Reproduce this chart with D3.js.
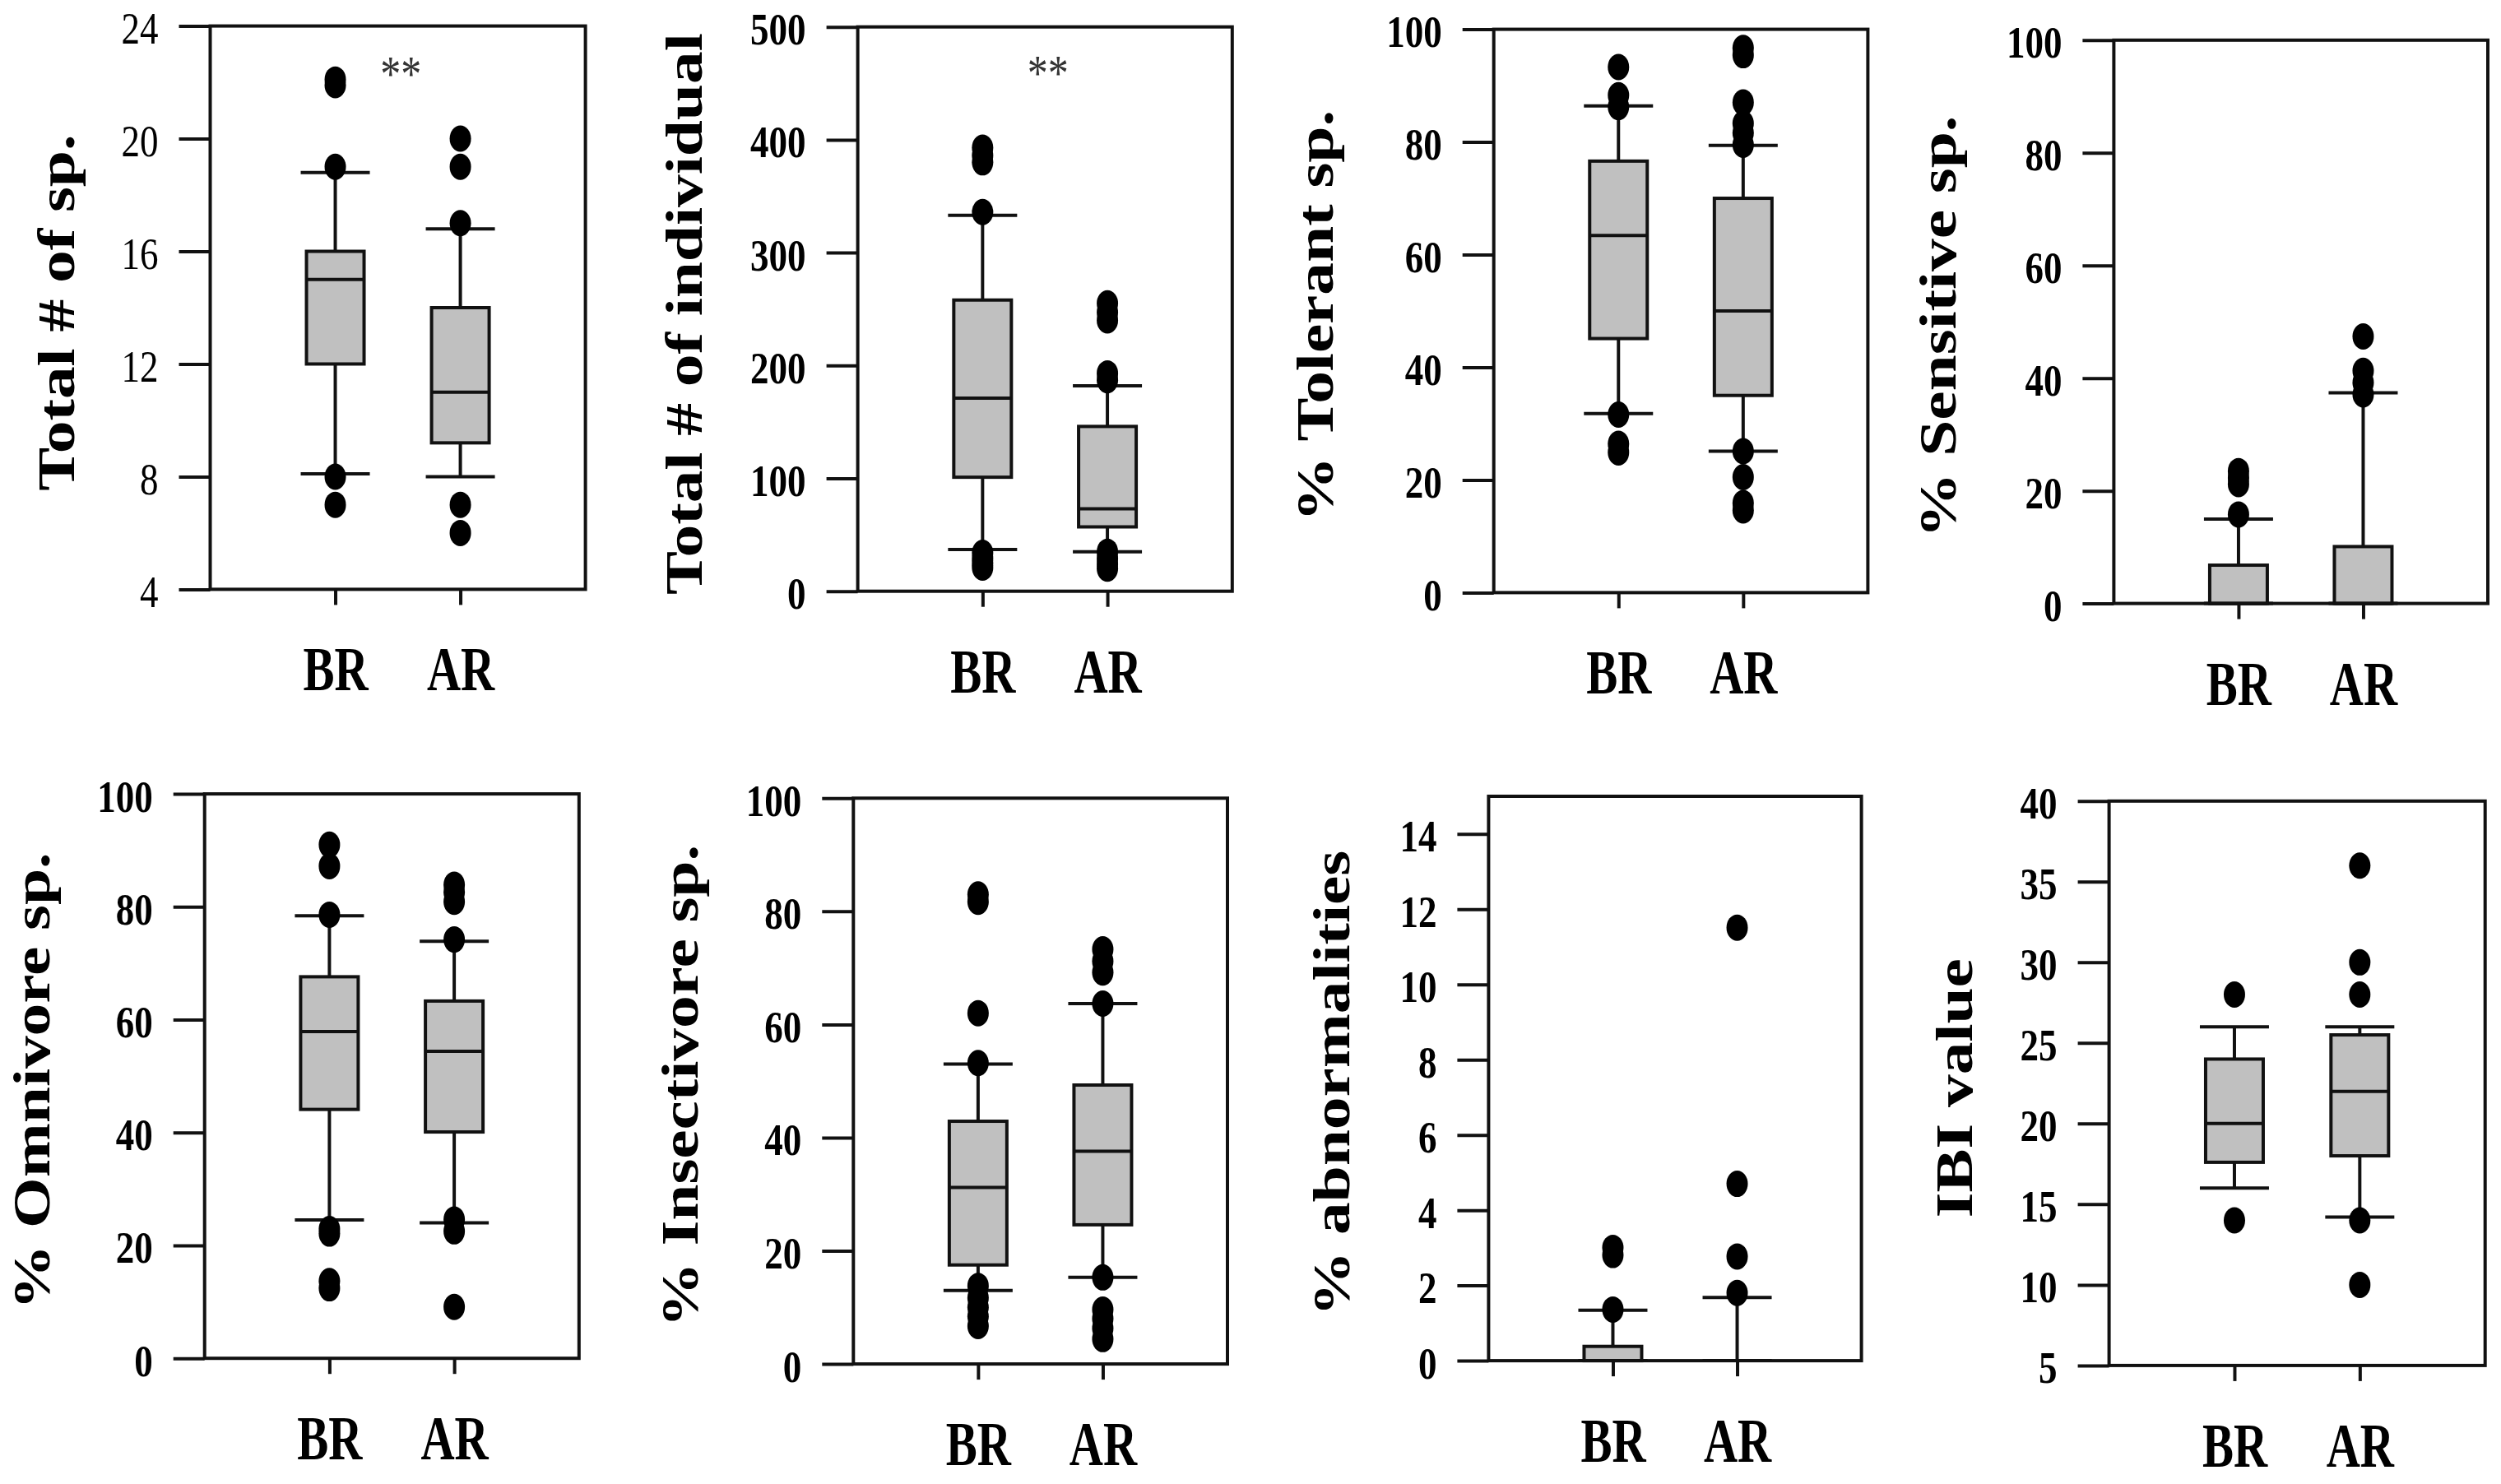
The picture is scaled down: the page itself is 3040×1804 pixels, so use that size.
<!DOCTYPE html>
<html><head><meta charset="utf-8">
<script src="https://cdn.jsdelivr.net/npm/d3@7"></script>
<style>html,body{margin:0;padding:0;background:#fff;} svg{display:block;}</style>
</head><body>
<svg id="chart" width="3040" height="1804"></svg>
<script>
// ---------------- DATA ----------------
const categories = ["BR", "AR"];
const yTitles = ["Total # of sp.", "Total # of individual", "% Tolerant sp.", "% Sensitive sp.",
                 "% Omnivore sp.", "% Insectivore sp.", "% abnormalities", "IBI value"];
const yDomains = [[4,24],[0,500],[0,100],[0,100],[0,100],[0,100],[0,15],[5,40]];
const yTicks = [
  [4,8,12,16,20,24],
  [0,100,200,300,400,500],
  [0,20,40,60,80,100],
  [0,20,40,60,80,100],
  [0,20,40,60,80,100],
  [0,20,40,60,80,100],
  [0,2,4,6,8,10,12,14],
  [5,10,15,20,25,30,35,40]
];
// each entry: [BR, AR]
const q1          = [[12,9.2],[101,57],[45.1,35],[0,0],[44.1,40.1],[17.5,24.6],[0,0],[17.6,18]];
const medians     = [[15,11],[171,73],[63.4,50],[0,0],[57.9,54.4],[31.2,37.6],[0,0],[20,22]];
const q3          = [[16,14],[258,146],[76.6,70],[6.8,10.1],[67.6,63.3],[42.9,49.3],[0.38,0],[24,25.5]];
const whiskerLow  = [[8.1,8],[37,35],[31.8,25.1],[0,0],[24.5,24],[13,15.3],[0,0],[16,14.2]];
const whiskerHigh = [[18.8,16.8],[333,182],[86.4,79.4],[15,37.4],[78.4,73.9],[53,63.7],[1.34,1.68],[26,26]];
const outliers = [
  [[22.1,21.9,19,8,7],[20,19,17,7,6]],
  [[393,386,380,336,34,29,25,21],[255,247,240,193,187,35,29,24,20]],
  [[93.3,88.3,86.2,31.6,26.4,24.9],[96.7,95.4,87,83.3,81.6,79.5,25.1,20.5,15.9,14.6]],
  [[23.5,22.3,21.2,15.8],[47.4,41.3,39.2,37.1]],
  [[91,87.2,78.6,22.9,22.1,13.7,12.4],[83.9,82.6,80.9,74.2,24.6,22.5,9.1]],
  [[83,81.7,62,53.2,13.8,11.7,10,8.4,6.7],[73.3,71.2,69.2,63.7,15.3,9.6,8,6.3,4.4]],
  [[3.0,2.81,1.36],[11.51,4.7,2.77,1.8]],
  [[28,14],[36,30,28,14,10]]
];
const sigLabels = ["**","**","","","","","",""];
const sigValues = [22.6,466,null,null,null,null,null,null];

// ---------------- LAYOUT (positions / styles) ----------------
const layout = [
  {x0:255.5, x1:711.6, y0:31.6, y1:716.4, title:166, boldTicks:false},
  {x0:1042.6,x1:1497.8,y0:32.7, y1:718.7, title:190, boldTicks:true},
  {x0:1815.7,x1:2270.4,y0:35.6, y1:720.4, title:196, boldTicks:true},
  {x0:2569.4,x1:3024,  y0:48.8, y1:733.6, title:192, boldTicks:true},
  {x0:248.7, x1:703.8, y0:965.1,y1:1651.2,title:189, boldTicks:true},
  {x0:1037.3,x1:1492,  y0:970.3,y1:1658.1,title:189, boldTicks:true},
  {x0:1809.4,x1:2262.6,y0:968,  y1:1654.1,title:169, boldTicks:true},
  {x0:2563.6,x1:3020.7,y0:973.8,y1:1659.9,title:167, boldTicks:true}
];
const FONT = "'Liberation Serif','Times New Roman',Times,serif";
const INK = "#111";
const BOX_FILL = "#c0c0c0";
const SW = 4;
const BOX_HALF = 35, CAP_HALF = 42;

const svg = d3.select("#chart");

layout.forEach((L, i) => {
  const w = L.x1 - L.x0, h = L.y1 - L.y0;
  const g = svg.append("g").attr("transform", `translate(${L.x0},${L.y0})`);
  const y = d3.scaleLinear().domain(yDomains[i]).range([h, 0]);
  const x = d3.scalePoint().domain(categories).range([0, w]).padding(1);

  // Y axis
  const ya = g.append("g")
    .call(d3.axisLeft(y).tickValues(yTicks[i]).tickSize(38).tickSizeOuter(0).tickPadding(25).tickFormat(d3.format("d")));
  ya.select(".domain").remove();
  ya.selectAll(".tick line").attr("stroke", INK).attr("stroke-width", SW);
  ya.selectAll(".tick text")
    .attr("x", null).attr("dy", null)
    .attr("transform", "translate(-63,21) scale(1,1.22)")
    .attr("text-anchor", "end")
    .attr("fill", "#000")
    .attr("font-family", FONT)
    .attr("font-size", 45)
    .attr("font-weight", L.boldTicks ? "bold" : "normal");

  // X axis
  const xa = g.append("g").attr("transform", `translate(0,${h})`)
    .call(d3.axisBottom(x).tickSize(19).tickSizeOuter(0));
  xa.select(".domain").remove();
  xa.selectAll(".tick line").attr("stroke", INK).attr("stroke-width", SW);
  xa.selectAll(".tick text")
    .attr("y", null).attr("dy", null)
    .attr("transform", "translate(0,123) scale(1,1.32)")
    .attr("text-anchor", "middle")
    .attr("fill", "#000")
    .attr("font-family", FONT)
    .attr("font-size", 57)
    .attr("font-weight", "bold");

  // Frame
  g.append("rect").attr("x", 0).attr("y", 0).attr("width", w).attr("height", h)
    .attr("fill", "none").attr("stroke", INK).attr("stroke-width", SW);

  // Boxes
  categories.forEach((c, j) => {
    const cx = x(c);
    const bg = g.append("g");
    bg.append("line").attr("x1", cx).attr("x2", cx)
      .attr("y1", y(q3[i][j])).attr("y2", y(whiskerHigh[i][j]))
      .attr("stroke", INK).attr("stroke-width", SW);
    bg.append("line").attr("x1", cx).attr("x2", cx)
      .attr("y1", y(q1[i][j])).attr("y2", y(whiskerLow[i][j]))
      .attr("stroke", INK).attr("stroke-width", SW);
    [whiskerHigh[i][j], whiskerLow[i][j]].forEach(v => {
      bg.append("line").attr("x1", cx - CAP_HALF).attr("x2", cx + CAP_HALF)
        .attr("y1", y(v)).attr("y2", y(v))
        .attr("stroke", INK).attr("stroke-width", SW);
    });
    const bh = y(q1[i][j]) - y(q3[i][j]);
    if (bh > 0) {
      bg.append("rect").attr("x", cx - BOX_HALF).attr("width", BOX_HALF * 2)
        .attr("y", y(q3[i][j])).attr("height", bh)
        .attr("fill", BOX_FILL).attr("stroke", INK).attr("stroke-width", SW);
      bg.append("line").attr("x1", cx - BOX_HALF).attr("x2", cx + BOX_HALF)
        .attr("y1", y(medians[i][j])).attr("y2", y(medians[i][j]))
        .attr("stroke", INK).attr("stroke-width", SW);
    }
    bg.selectAll("ellipse.o").data(outliers[i][j]).enter().append("ellipse")
      .attr("cx", cx).attr("cy", d => y(d)).attr("rx", 13).attr("ry", 16)
      .attr("fill", "#000");
  });

  if (sigLabels[i]) {
    g.append("text")
      .attr("transform", `translate(${w * 0.508},${y(sigValues[i]) + 30}) scale(1,1.22)`)
      .attr("text-anchor", "middle")
      .attr("font-family", FONT).attr("font-size", 50).attr("fill", "#333")
      .text(sigLabels[i]);
  }

  g.append("text")
    .attr("transform", `translate(${-L.title},${h / 2 + 6}) scale(1,1.24) rotate(-90)`)
    .attr("text-anchor", "middle")
    .attr("font-family", FONT).attr("font-size", 64).attr("font-weight", "bold")
    .attr("fill", "#000")
    .text(yTitles[i]);
});
</script>
</body></html>
